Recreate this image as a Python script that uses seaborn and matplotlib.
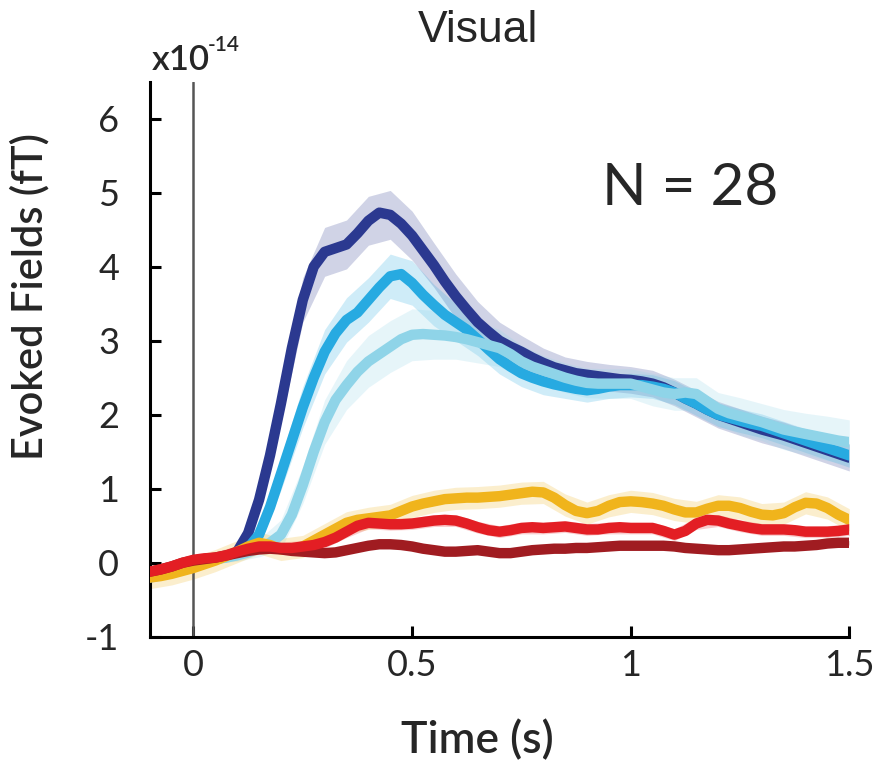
import numpy as np
import pandas as pd
import matplotlib.pyplot as plt
import seaborn as sns

# time axis (s), sampled every 25 ms
time = [-0.1, -0.075, -0.05, -0.025, 0.0, 0.025, 0.05, 0.075, 0.1, 0.125, 0.15, 0.175,
        0.2, 0.225, 0.25, 0.275, 0.3, 0.325, 0.35, 0.375, 0.4, 0.425, 0.45, 0.475,
        0.5, 0.525, 0.55, 0.575, 0.6, 0.625, 0.65, 0.675, 0.7, 0.725, 0.75, 0.775,
        0.8, 0.825, 0.85, 0.875, 0.9, 0.925, 0.95, 0.975, 1.0, 1.025, 1.05, 1.075,
        1.1, 1.125, 1.15, 1.175, 1.2, 1.225, 1.25, 1.275, 1.3, 1.325, 1.35, 1.375,
        1.4, 1.425, 1.45, 1.475, 1.5]

# mean evoked fields (x1e-14)
navy = [-0.15, -0.13, -0.1, -0.05, 0.0, 0.03, 0.05, 0.08, 0.15, 0.4, 0.85, 1.45,
        2.15, 2.9, 3.55, 4.0, 4.2, 4.25, 4.3, 4.45, 4.62, 4.73, 4.7, 4.58,
        4.42, 4.22, 4.02, 3.8, 3.6, 3.42, 3.25, 3.12, 3.0, 2.92, 2.85, 2.77,
        2.7, 2.64, 2.6, 2.56, 2.54, 2.52, 2.5, 2.48, 2.47, 2.45, 2.42, 2.37,
        2.3, 2.22, 2.15, 2.07, 2.0, 1.95, 1.9, 1.85, 1.8, 1.76, 1.72, 1.67,
        1.62, 1.57, 1.52, 1.47, 1.42]
mid_blue = [-0.15, -0.13, -0.1, -0.05, 0.0, 0.03, 0.05, 0.08, 0.12, 0.2, 0.38, 0.75,
            1.2, 1.65, 2.1, 2.5, 2.85, 3.1, 3.28, 3.38, 3.55, 3.72, 3.87, 3.9,
            3.78, 3.62, 3.48, 3.35, 3.25, 3.15, 3.02, 2.88, 2.75, 2.65, 2.56, 2.5,
            2.45, 2.41, 2.38, 2.35, 2.33, 2.35, 2.38, 2.4, 2.4, 2.4, 2.38, 2.35,
            2.3, 2.22, 2.15, 2.07, 2.0, 1.96, 1.92, 1.88, 1.85, 1.8, 1.75, 1.7,
            1.65, 1.6, 1.55, 1.5, 1.45]
light_blue = [-0.2, -0.17, -0.12, -0.06, 0.0, 0.03, 0.05, 0.07, 0.1, 0.14, 0.2, 0.27,
              0.38, 0.65, 1.05, 1.5, 1.9, 2.2, 2.4, 2.58, 2.72, 2.82, 2.92, 3.02,
              3.08, 3.09, 3.08, 3.07, 3.05, 3.02, 2.98, 2.94, 2.9, 2.82, 2.72, 2.65,
              2.6, 2.55, 2.5, 2.46, 2.43, 2.42, 2.42, 2.42, 2.42, 2.38, 2.34, 2.3,
              2.28, 2.3, 2.28, 2.18, 2.08, 2.02, 1.98, 1.94, 1.9, 1.85, 1.8, 1.77,
              1.74, 1.71, 1.68, 1.65, 1.63]
yellow = [-0.2, -0.18, -0.15, -0.11, -0.07, -0.02, 0.03, 0.09, 0.15, 0.22, 0.27, 0.24,
          0.18, 0.18, 0.22, 0.3, 0.38, 0.46, 0.54, 0.58, 0.6, 0.62, 0.64, 0.7,
          0.76, 0.8, 0.83, 0.86, 0.87, 0.88, 0.88, 0.89, 0.9, 0.92, 0.94, 0.96,
          0.95, 0.88, 0.78, 0.7, 0.67, 0.7, 0.77, 0.82, 0.83, 0.82, 0.8, 0.77,
          0.72, 0.68, 0.68, 0.73, 0.77, 0.77, 0.74, 0.69, 0.65, 0.64, 0.67, 0.75,
          0.81, 0.8, 0.74, 0.65, 0.58]
red = [-0.12, -0.09, -0.05, 0.0, 0.04, 0.06, 0.07, 0.1, 0.15, 0.19, 0.22, 0.22,
       0.2, 0.2, 0.22, 0.24, 0.28, 0.34, 0.42, 0.5, 0.54, 0.53, 0.52, 0.52,
       0.53, 0.55, 0.57, 0.58, 0.57, 0.53, 0.48, 0.44, 0.42, 0.44, 0.47, 0.48,
       0.47, 0.48, 0.49, 0.47, 0.45, 0.45, 0.47, 0.48, 0.47, 0.47, 0.47, 0.43,
       0.38, 0.43, 0.53, 0.58, 0.57, 0.53, 0.5, 0.47, 0.45, 0.45, 0.45, 0.44,
       0.42, 0.42, 0.42, 0.43, 0.45]
dark_red = [-0.12, -0.09, -0.05, 0.0, 0.03, 0.05, 0.07, 0.1, 0.13, 0.16, 0.18, 0.19,
            0.18, 0.16, 0.15, 0.14, 0.13, 0.14, 0.17, 0.2, 0.23, 0.25, 0.25, 0.24,
            0.22, 0.19, 0.17, 0.15, 0.15, 0.16, 0.17, 0.15, 0.13, 0.13, 0.15, 0.17,
            0.18, 0.19, 0.19, 0.2, 0.2, 0.21, 0.22, 0.23, 0.23, 0.23, 0.23, 0.23,
            0.22, 0.2, 0.19, 0.18, 0.17, 0.17, 0.18, 0.19, 0.2, 0.21, 0.22, 0.22,
            0.23, 0.24, 0.26, 0.27, 0.27]

# standard error half-widths, sampled every 50 ms
sem_time = [-0.1, -0.05, 0.0, 0.05, 0.1, 0.15, 0.2, 0.25, 0.3, 0.35, 0.4, 0.45,
            0.5, 0.55, 0.6, 0.65, 0.7, 0.75, 0.8, 0.85, 0.9, 0.95, 1.0, 1.05,
            1.1, 1.15, 1.2, 1.25, 1.3, 1.35, 1.4, 1.45, 1.5]
navy_sem = [0.05, 0.05, 0.05, 0.05, 0.08, 0.15, 0.25, 0.3, 0.33, 0.33, 0.33, 0.33,
            0.33, 0.3, 0.3, 0.28, 0.25, 0.22, 0.2, 0.18, 0.18, 0.18, 0.18, 0.18,
            0.18, 0.18, 0.18, 0.18, 0.18, 0.18, 0.18, 0.18, 0.18]
mid_sem = [0.05, 0.05, 0.05, 0.05, 0.08, 0.15, 0.22, 0.28, 0.3, 0.3, 0.3, 0.3,
           0.3, 0.28, 0.25, 0.22, 0.2, 0.18, 0.18, 0.16, 0.16, 0.16, 0.16, 0.16,
           0.16, 0.16, 0.16, 0.16, 0.16, 0.16, 0.16, 0.16, 0.16]
light_sem = [0.05, 0.05, 0.05, 0.05, 0.08, 0.12, 0.2, 0.25, 0.3, 0.33, 0.35, 0.35,
             0.35, 0.33, 0.3, 0.28, 0.25, 0.22, 0.2, 0.2, 0.2, 0.2, 0.2, 0.22,
             0.22, 0.22, 0.22, 0.25, 0.25, 0.27, 0.28, 0.3, 0.3]
yellow_sem = 0.15
red_sem = 0.08
dark_red_sem = 0.03

conditions = ["navy", "mid_blue", "light_blue", "yellow", "dark_red", "red"]
means = [navy, mid_blue, light_blue, yellow, dark_red, red]
sems = [navy_sem, mid_sem, light_sem, yellow_sem, dark_red_sem, red_sem]
colors = ["#2b3990", "#27aae1", "#8fd4e8", "#f0b41c", "#a01c21", "#e31e24"]

df = pd.DataFrame({
    "time": np.tile(time, len(conditions)),
    "value": np.concatenate(means),
    "condition": np.repeat(conditions, len(time)),
})

sns.set_theme(style="ticks")
plt.rcParams["font.family"] = ["Lato", "DejaVu Sans"]

fig = plt.figure(figsize=(8.81, 7.7), dpi=100)
ax = fig.add_axes([0.170, 0.173, 0.794, 0.721])

# SEM bands (mean read at the coarse grid)
ts = np.array(sem_time)
for m, s, c in zip(means, sems, colors):
    m_coarse = np.array(m)[::2]
    s = np.broadcast_to(np.array(s, dtype=float), ts.shape)
    ax.fill_between(ts, m_coarse - s, m_coarse + s, color=c, alpha=0.22, lw=0)

ax.axvline(0, color="#555555", lw=1.8, zorder=1)

sns.lineplot(data=df, x="time", y="value", hue="condition", hue_order=conditions,
             palette=dict(zip(conditions, colors)), linewidth=7.5, legend=False,
             ax=ax, zorder=3)
for line in ax.get_lines():
    line.set_solid_capstyle("round")
    line.set_solid_joinstyle("round")

ax.set_xlim(-0.1, 1.5)
ax.set_ylim(-1, 6.5)
ax.set_xticks([0, 0.5, 1, 1.5])
ax.set_xticklabels(["0", "0.5", "1", "1.5"])
ax.set_yticks([-1, 0, 1, 2, 3, 4, 5, 6])
ax.set_yticklabels(["-1", "0", "1", "2", "3", "4", "5", "6"])
ax.tick_params(axis="both", direction="in", length=8, width=2.2, labelsize=26, color="black")
ax.tick_params(axis="y", pad=22)
ax.tick_params(axis="x", pad=9)
sns.despine(ax=ax)
for sp in ["left", "bottom"]:
    ax.spines[sp].set_linewidth(2.2)
    ax.spines[sp].set_color("black")

ax.set_xlabel("Time (s)", fontsize=32, fontweight="semibold")
ax.xaxis.set_label_coords(0.469, -0.15)
ax.set_ylabel("Evoked Fields (fT)", fontsize=30, fontweight="semibold")
ax.yaxis.set_label_coords(-0.143, 0.613)

fig.text(0.5426, 0.961, "Visual", ha="center", va="center", fontsize=32,
         family=["Liberation Sans", "DejaVu Sans"])
fig.text(0.172, 0.922, "x10", ha="left", va="center", fontsize=25, fontweight="semibold")
fig.text(0.236, 0.942, "-14", ha="left", va="center", fontsize=15, fontweight="semibold")
fig.text(0.783, 0.755, "N = 28", ha="center", va="center", fontsize=42)

fig.savefig("out.png", dpi=100, facecolor="white")
